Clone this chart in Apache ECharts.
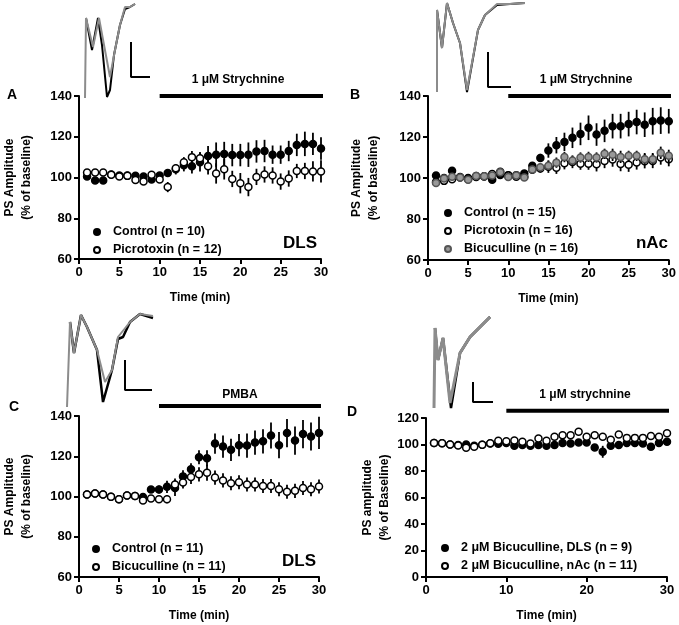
<!DOCTYPE html>
<html>
<head>
<meta charset="utf-8">
<script src="https://cdn.jsdelivr.net/npm/echarts@6/dist/echarts.min.js"></script>
<style>
  html, body { margin: 0; padding: 0; background: #fff; }
  #main { width: 679px; height: 625px; }
</style>
</head>
<body>
<div id="main"></div>
<script>
// minutes of recording
var minutes = [1, 2, 3, 4, 5, 6, 7, 8, 9, 10, 11, 12, 13, 14, 15, 16, 17, 18, 19, 20, 21, 22, 23, 24, 25, 26, 27, 28, 29, 30];

// A - DLS, strychnine
var aControl = [100.5, 98.5, 98.5, 101.5, 101, 101, 100.8, 100.5, 99, 101, 102.2, 104, 106, 105.5, 107.5, 110.5, 111.2, 111.5, 111, 111, 111.2, 112.8, 113, 111.2, 111.2, 113, 116, 116.5, 116.5, 114.2];
var aControlErr = [1.5, 1, 1, 1, 1, 1, 1, 1, 1, 1.5, 1.5, 2.5, 3, 3.5, 4.5, 5, 6, 6, 5.5, 5.5, 6, 5.5, 5.5, 4.5, 4.5, 5, 5.5, 6, 5.5, 5.5];
var aPicro = [102.5, 102.5, 102.5, 101.3, 100.5, 100.8, 98.8, 98, 101.3, 99, 95.3, 104.5, 107.5, 110, 109.5, 105.5, 102, 104, 99.3, 97.2, 95.3, 100.3, 101.5, 101, 98, 99.5, 103.2, 103.2, 103, 103];
var aPicroErr = [1.5, 1.5, 1.5, 1, 1, 1, 1.5, 1.5, 1.5, 1.5, 2.5, 2, 2.5, 3, 3, 4, 5, 5, 4, 5, 4.5, 4, 4, 4, 4, 4, 3.5, 4, 5, 5.5];

// B - nAc, strychnine
var bControl = [101.2, 100, 103.5, 100.5, 100, 101, 100.7, 99.2, 101.5, 101.4, 101.4, 102.2, 106, 109.8, 113.4, 116, 117.6, 119.6, 121.5, 124.5, 121.2, 123, 125.3, 125.3, 126.3, 127.3, 126, 127.7, 128, 127.7];
var bControlErr = [1, 1, 1, 1, 1, 1, 1, 1, 1, 1, 1, 1, 1.5, 2, 3.5, 4, 4.5, 5, 5.5, 6, 5.5, 5.5, 6, 6, 6, 6, 6, 6.5, 6.5, 6];
var bPicro = [98, 98.6, 99.4, 100.2, 99.4, 100.5, 100.9, 101.9, 103, 101.2, 100.6, 100.6, 104, 104.6, 105.5, 105, 107.2, 107.8, 107, 107, 106.7, 108.3, 109, 106.8, 106.5, 107.6, 108.2, 108.3, 110, 109.2];
var bPicroErr = [1, 1, 1, 1, 1, 1, 1, 1, 1, 1, 1, 1, 2, 2, 3, 3, 3, 3, 3, 3, 3.5, 3.5, 3.5, 3.5, 3.5, 3.5, 3.5, 3.5, 3.5, 3.5];
var bBicu = [97.6, 99.8, 100.6, 100.3, 99.2, 101, 100.8, 101.2, 102.8, 100.5, 101.2, 100.3, 104.2, 105.2, 106, 107.5, 110.2, 108.5, 110, 110.3, 110, 111.8, 111.3, 110.3, 110.8, 110.8, 109.2, 109.2, 112.3, 110.8];
var bBicuErr = [1, 1, 1, 1, 1, 1, 1, 1, 1, 1, 1, 1, 1.5, 2, 2.5, 2.5, 2.5, 2.5, 2.5, 2.5, 2.5, 2.5, 3, 3, 2.5, 2.5, 3, 3, 3, 3];

// C - DLS, PMBA
var cControl = [101, 101.5, 101, 99.9, 98.6, 100.5, 100.3, 99.8, 103.5, 103.5, 104.8, 104.2, 110, 113.5, 119.5, 119, 126.3, 124.8, 123.2, 125.5, 125.3, 126.8, 127.4, 130.3, 125.5, 131.5, 127.8, 131, 129.8, 131.6];
var cControlErr = [1, 1, 1, 1, 1, 1, 1, 1, 1.5, 2, 3, 4, 3, 3, 3.5, 4, 5, 5.5, 5.5, 5.5, 6, 6, 6, 6.5, 6.5, 7, 7, 7, 7, 8];
var cBicu = [101, 101.5, 101, 99.9, 98.6, 100.5, 100.3, 98, 99, 98.6, 98.6, 106, 107, 109.7, 111, 111.8, 109.4, 108, 106.6, 107.1, 106, 106, 105.2, 105.2, 103.6, 102.4, 102.8, 104.2, 103.6, 105];
var cBicuErr = [1, 1, 1, 1, 1, 1, 1, 1.5, 1.5, 1.5, 2, 3, 3, 3.5, 3.5, 4, 3.5, 3.5, 3.5, 3.5, 3.5, 3.5, 3.5, 3.5, 3.5, 3.5, 3.5, 3.5, 3.5, 3.5];

// D - bicuculline pre-treated, strychnine
var dDls = [101.2, 100.9, 100, 99.6, 100, 99, 99.8, 100.8, 100.6, 101.2, 99, 99.6, 99, 99.6, 99, 99.6, 101.2, 100.8, 101.5, 101.5, 97.8, 94.5, 99, 99.6, 101.2, 101.2, 100.8, 98.3, 101.2, 102];
var dDlsErr = [1, 1, 1, 1, 1, 1, 1, 1, 1, 1, 1, 1, 1, 1, 1, 1, 1.5, 1.5, 1.5, 1.5, 2, 4.5, 1.5, 1.5, 1.5, 1.5, 1.5, 1.5, 1.5, 1.5];
var dNac = [101.2, 100.9, 100, 99.2, 97.6, 98.3, 99.8, 100.9, 102.8, 102.5, 103, 102, 100.8, 104.6, 102.8, 105.8, 107, 107, 109.6, 105.8, 107, 105.8, 103.6, 107.5, 105, 105, 105, 106.5, 105.8, 108.5];
var dNacErr = [1.5, 1.5, 1.5, 1.5, 2, 1.5, 1.5, 1.5, 1.5, 1.5, 1.5, 1.5, 1.5, 2, 2, 2, 2, 2, 2, 2, 2, 2, 2, 2, 2, 2, 2, 2, 2, 2];

// example field potential traces (inset units: samples / relative amplitude)
var traceAGray = [[1, -96], [2, -16], [4, -14], [9, -45], [15, -16], [20, -43], [26, -75], [31, -48], [36, -23], [41, -5], [43, -4], [46, -5], [51, -2]];
var traceABlack = [[2, -16], [4, -14], [8, -48], [14, -16], [18, -43], [23, -95], [26, -88], [30, -53], [36, -23], [41, -7], [46, -5], [51, -2]];
var traceBGray = [[1, -90], [1, -8], [6, -46], [11, -1], [17, -21], [24, -41], [31, -88], [42, -28], [49, -13], [61, -2], [74, -2], [89, -1]];
var traceBBlack = [[1, -8], [6, -46], [11, -1], [17, -21], [24, -41], [31, -90], [42, -28], [49, -13], [61, -3], [74, -2], [89, -1]];
var traceCGray = [[1, -95], [4, -10], [8, -41], [15, -3], [21, -15], [31, -38], [39, -70], [46, -58], [52, -25], [64, -10], [74, -2], [87, -4]];
var traceCBlack = [[4, -10], [8, -41], [15, -3], [21, -15], [31, -38], [37, -90], [46, -58], [52, -27], [57, -25], [64, -10], [74, -2], [87, -6]];
var traceDGray = [[2, -94], [3, -14], [6, -46], [11, -24], [18, -89], [28, -39], [38, -23], [58, -3]];
var traceDBlack = [[3, -14], [6, -46], [11, -24], [19, -94], [28, -39], [38, -23], [58, -3]];
var scaleA = [[47, -40], [47, -75], [66, -75]];
var scaleB = [[52, -50], [52, -85], [75, -85]];
var scaleC = [[59, -48], [59, -78], [86, -78]];
var scaleD = [[41, -68], [41, -88], [61, -88]];

var FONT = "'Liberation Sans', Arial, sans-serif";
var chart = echarts.init(document.getElementById('main'));

function zip(vals, errs) {
  return minutes.map(function (m, i) { return [m, vals[i], errs[i]]; });
}

// vertical SEM bars
function errRender(params, api) {
  var x = api.value(0), y = api.value(1), e = api.value(2);
  var hi = api.coord([x, y + e]);
  var lo = api.coord([x, y - e]);
  return {
    type: 'line',
    shape: { x1: hi[0], y1: hi[1], x2: lo[0], y2: lo[1] },
    style: { stroke: '#000', lineWidth: 1.8 }
  };
}

var series = [];
function addGroup(gi, name, vals, errs, fill, border, z) {
  series.push({
    type: 'custom', xAxisIndex: gi, yAxisIndex: gi, renderItem: errRender,
    data: zip(vals, errs), encode: { x: 0, y: 1 }, z: z, silent: true
  });
  series.push({
    name: name, type: 'scatter', xAxisIndex: gi, yAxisIndex: gi,
    data: zip(vals, errs), symbol: 'circle', symbolSize: 7, z: z + 1,
    itemStyle: { color: fill, borderColor: border, borderWidth: 1.5, opacity: 1 }
  });
}
addGroup(0, 'Control (n = 10)', aControl, aControlErr, '#000', '#000', 2);
addGroup(0, 'Picrotoxin (n = 12)', aPicro, aPicroErr, '#fff', '#000', 4);
addGroup(1, 'Control (n = 15)', bControl, bControlErr, '#000', '#000', 2);
addGroup(1, 'Picrotoxin (n = 16)', bPicro, bPicroErr, '#fff', '#000', 4);
addGroup(1, 'Bicuculline (n = 16)', bBicu, bBicuErr, '#999', '#555', 6);
addGroup(2, 'Control (n = 11)', cControl, cControlErr, '#000', '#000', 2);
addGroup(2, 'Bicuculline (n = 11)', cBicu, cBicuErr, '#fff', '#000', 4);
addGroup(3, '2 \u03bcM Bicuculline, DLS (n = 9)', dDls, dDlsErr, '#000', '#000', 2);
addGroup(3, '2 \u03bcM Bicuculline, nAc (n = 11)', dNac, dNacErr, '#fff', '#000', 4);

// drug application bars
function addBar(gi, level) {
  series.push({
    type: 'line', xAxisIndex: gi, yAxisIndex: gi, data: [[10, level], [30.3, level]],
    symbol: 'none', clip: false, silent: true, z: 1,
    lineStyle: { color: '#000', width: 4 }
  });
}
addBar(0, 140); addBar(1, 140); addBar(2, 145); addBar(3, 125.5);

// inset traces
function addTrace(gi, data, color, width, z) {
  series.push({
    type: 'line', xAxisIndex: gi, yAxisIndex: gi, data: data, symbol: 'none',
    clip: false, silent: true, z: z, lineStyle: { color: color, width: width }
  });
}
addTrace(4, traceABlack, '#000', 2, 1); addTrace(4, traceAGray, '#8c8c8c', 2, 2); addTrace(4, scaleA, '#000', 2, 1);
addTrace(5, traceBBlack, '#000', 2, 1); addTrace(5, traceBGray, '#8c8c8c', 2, 2); addTrace(5, scaleB, '#000', 2, 1);
addTrace(6, traceCBlack, '#000', 2.5, 1); addTrace(6, traceCGray, '#8c8c8c', 2, 2); addTrace(6, scaleC, '#000', 2, 1);
addTrace(7, traceDBlack, '#000', 2.5, 1); addTrace(7, traceDGray, '#8c8c8c', 3, 2); addTrace(7, scaleD, '#000', 2, 1);

var grids = [
  { left: 79, top: 96, width: 242, height: 163 },
  { left: 428, top: 96, width: 242, height: 164 },
  { left: 79, top: 416, width: 240, height: 163 },
  { left: 426, top: 418, width: 241, height: 161 },
  { left: 84, top: 2, width: 70, height: 96 },
  { left: 436, top: 2, width: 92, height: 92 },
  { left: 66, top: 312, width: 90, height: 98 },
  { left: 432, top: 314, width: 64, height: 98 }
];

var axisLine = { lineStyle: { color: '#000', width: 2 } };
var axisTick = { inside: false, length: 5, lineStyle: { color: '#000', width: 2 } };
var labelStyle = { color: '#000', fontFamily: FONT, fontWeight: 'bold', fontSize: 13 };
var nameStyle = { color: '#000', fontFamily: FONT, fontWeight: 'bold', fontSize: 12, lineHeight: 17 };

function xMain(gi, step) {
  return {
    type: 'value', gridIndex: gi, min: 0, max: 30, interval: step,
    axisLine: axisLine, axisTick: axisTick, splitLine: { show: false },
    axisLabel: Object.assign({ margin: 7 }, labelStyle),
    name: 'Time (min)', nameLocation: 'middle', nameGap: 30, nameTextStyle: nameStyle
  };
}
function yMain(gi, lo, hi, title, gap) {
  return {
    type: 'value', gridIndex: gi, min: lo, max: hi, interval: 20,
    axisLine: axisLine, axisTick: axisTick, splitLine: { show: false },
    axisLabel: Object.assign({ margin: 7 }, labelStyle),
    name: title, nameLocation: 'middle', nameRotate: 90, nameGap: gap, nameTextStyle: nameStyle
  };
}
function hidden(gi, lo, hi) {
  return { type: 'value', gridIndex: gi, min: lo, max: hi, show: false };
}

var xAxes = [xMain(0, 5), xMain(1, 5), xMain(2, 5), xMain(3, 10),
  hidden(4, 0, 70), hidden(5, 0, 92), hidden(6, 0, 90), hidden(7, 0, 64)];
var yAxes = [
  yMain(0, 60, 140, 'PS Amplitude\n(% of baseline)', 44),
  yMain(1, 60, 140, 'PS Amplitude\n(% of baseline)', 46),
  yMain(2, 60, 140, 'PS Amplitude\n(% of baseline)', 44),
  yMain(3, 0, 120, 'PS amplitude\n(% of Baseline)', 28),
  hidden(4, -96, 0), hidden(5, -92, 0), hidden(6, -98, 0), hidden(7, -98, 0)
];

function legend(left, top, names) {
  return {
    orient: 'vertical', left: left, top: top, data: names,
    itemWidth: 6, itemHeight: 6, itemGap: 4, selectedMode: false,
    textStyle: { color: '#000', fontFamily: FONT, fontWeight: 'bold', fontSize: 12.5, lineHeight: 14, padding: [0, 0, 0, 8] }
  };
}

function txt(x, y, s, size, align) {
  return {
    type: 'text', x: x, y: y, silent: true,
    style: { text: s, fill: '#000', font: 'bold ' + size + 'px ' + FONT, textAlign: align || 'center', textVerticalAlign: 'middle' }
  };
}

chart.setOption({
  backgroundColor: '#fff',
  animation: false,
  grid: grids,
  xAxis: xAxes,
  yAxis: yAxes,
  legend: [
    legend(88, 220, ['Control (n = 10)', 'Picrotoxin (n = 12)']),
    legend(439, 201, ['Control (n = 15)', 'Picrotoxin (n = 16)', 'Bicuculline (n = 16)']),
    legend(87, 537, ['Control (n = 11)', 'Bicuculline (n = 11)']),
    legend(436, 536, ['2 \u03bcM Bicuculline, DLS (n = 9)', '2 \u03bcM Bicuculline, nAc (n = 11)'])
  ],
  graphic: [
    txt(12, 95, 'A', 14), txt(355, 95, 'B', 14), txt(14, 407, 'C', 14), txt(352, 412, 'D', 14),
    txt(238, 80, '1 \u03bcM Strychnine', 12), txt(586, 80, '1 \u03bcM Strychnine', 12),
    txt(240, 395, 'PMBA', 12), txt(585, 395, '1 \u03bcM strychnine', 12),
    txt(300, 243, 'DLS', 17), txt(652, 243, 'nAc', 17), txt(299, 561, 'DLS', 17)
  ],
  series: series
});
</script>
</body>
</html>
